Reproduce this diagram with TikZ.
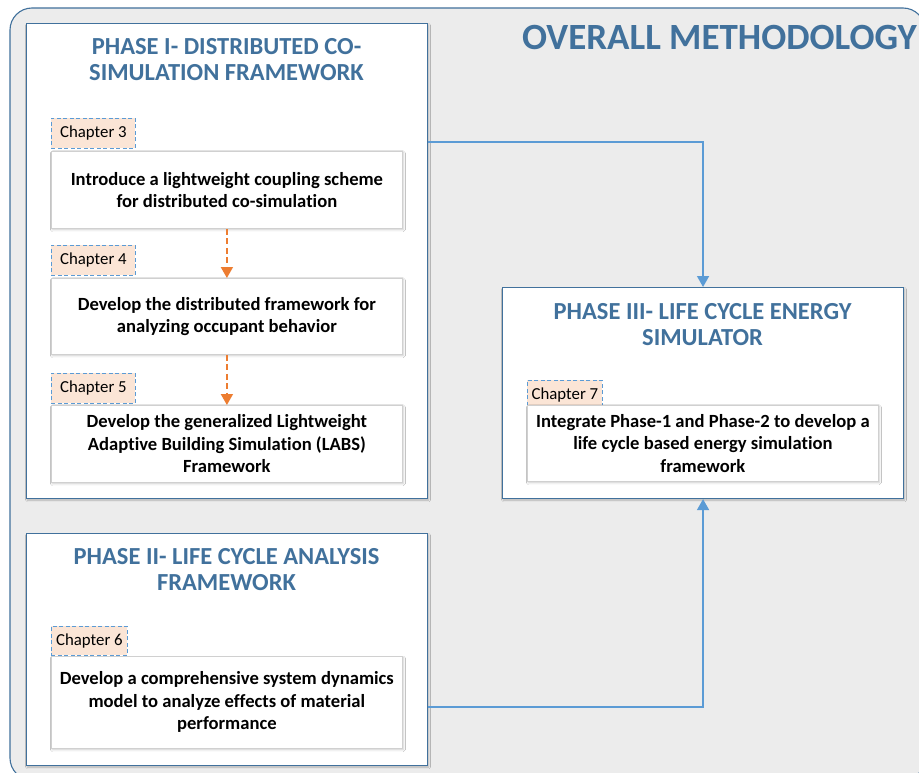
\documentclass[tikz,border=0pt]{standalone}
\usepackage{fontspec}
\setmainfont[Ligatures=NoCommon]{Carlito}
\usetikzlibrary{arrows.meta,shadows.blur}

\definecolor{panelgray}{HTML}{ECECEC}
\definecolor{frameblue}{HTML}{41719C}
\definecolor{titleblue}{HTML}{41719C}
\definecolor{linkblue}{HTML}{5B9BD5}
\definecolor{tagblue}{HTML}{5B9BD5}
\definecolor{peach}{HTML}{FBE5D6}
\definecolor{flowyellow}{HTML}{ED7D31}
\definecolor{taskline}{HTML}{D0D0D0}

\tikzset{
  phasebox/.style={draw=frameblue, fill=white, line width=1.1pt, anchor=north west,
    inner sep=0pt, blur shadow={shadow xshift=1pt, shadow yshift=-1.5pt, shadow blur steps=5, shadow opacity=25}},
  phasetitle/.style={text=titleblue, font=\fontsize{24.5}{26}\selectfont\bfseries, align=center},
  taskbox/.style={draw=taskline, fill=white, line width=0.8pt, anchor=north west,
    inner sep=0pt, font=\fontsize{18.6}{22.5}\selectfont\bfseries, align=center,
    blur shadow={shadow xshift=1pt, shadow yshift=-1.5pt, shadow blur steps=4, shadow opacity=20}},
  chaptag/.style={draw=tagblue, dashed, dash pattern=on 4pt off 2.5pt, fill=peach, line width=0.9pt,
    anchor=north west, inner sep=0pt, font=\fontsize{16.8}{18}\selectfont},
  flow/.style={draw=flowyellow, line width=1.8pt, dash pattern=on 6pt off 3.5pt,
    -{Triangle[length=11pt,width=12pt]}},
  link/.style={draw=linkblue, line width=1.6pt, -{Triangle[length=11pt,width=12pt]}},
}

\begin{document}
\begin{tikzpicture}[x=1pt,y=-1pt]
\useasboundingbox (0,0) rectangle (919,773);
\clip (0,0) rectangle (919,773);

% outer methodology panel
\fill[white] (0,0) rectangle (919,773);
\path[draw=frameblue, fill=panelgray, line width=1.1pt, rounded corners=22pt]
  (10,8) rectangle (925,780);
\node[text=titleblue, font=\fontsize{37}{40}\selectfont\bfseries, anchor=center]
  (overall) at (719.5,37) {OVERALL METHODOLOGY};

% Phase I
\node[phasebox, minimum width=401pt, minimum height=475pt] (p1) at (26,23) {};
\node[phasetitle] (p1title) at (226.5,60) {PHASE I- DISTRIBUTED CO-\\SIMULATION FRAMEWORK};
\node[chaptag, minimum width=84pt, minimum height=30pt] (c3) at (51,118) {Chapter 3};
\node[taskbox, minimum width=351pt, minimum height=77pt] (t3) at (51,151)
  {Introduce a lightweight coupling scheme\\for distributed co-simulation};
\node[chaptag, minimum width=84pt, minimum height=30pt] (c4) at (51,245) {Chapter 4};
\node[taskbox, minimum width=351pt, minimum height=76pt] (t4) at (51,278)
  {Develop the distributed framework for\\analyzing occupant behavior};
\node[chaptag, minimum width=84pt, minimum height=30pt] (c5) at (51,373) {Chapter 5};
\node[taskbox, minimum width=351pt, minimum height=77pt] (t5) at (51,405)
  {Develop the generalized Lightweight\\Adaptive Building Simulation (LABS)\\Framework};
\draw[flow] (t3.south) -- (t4.north);
\draw[flow] (t4.south) -- (t5.north);

% Phase II
\node[phasebox, minimum width=401pt, minimum height=232pt] (p2) at (26,533) {};
\node[phasetitle] (p2title) at (226.5,570) {PHASE II- LIFE CYCLE ANALYSIS\\FRAMEWORK};
\node[chaptag, minimum width=76pt, minimum height=29pt] (c6) at (51,626) {Chapter 6};
\node[taskbox, minimum width=351pt, minimum height=92pt] (t6) at (51,656)
  {Develop a comprehensive system dynamics\\model to analyze effects of material\\performance};

% Phase III
\node[phasebox, minimum width=401pt, minimum height=211pt] (p3) at (502,287) {};
\node[phasetitle] (p3title) at (702.5,325) {PHASE III- LIFE CYCLE ENERGY\\SIMULATOR};
\node[chaptag, minimum width=75pt, minimum height=30pt] (c7) at (527,380) {Chapter 7};
\node[taskbox, minimum width=351pt, minimum height=76pt] (t7) at (527,405)
  {Integrate Phase-1 and Phase-2 to develop a\\life cycle based energy simulation\\framework};

% links into Phase III
\coordinate (j1) at (702.5,142);
\coordinate (j2) at (702.5,707);
\draw[link] (p1.east |- j1) -| (p3.north);
\draw[link] (p2.east |- j2) -| (p3.south);
\end{tikzpicture}
\end{document}
